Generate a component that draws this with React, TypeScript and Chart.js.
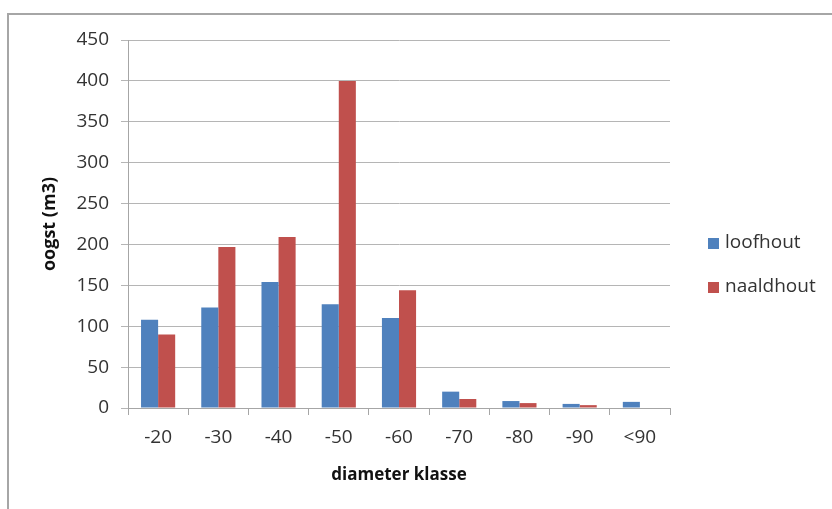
import { useEffect, useRef } from "react";
import { Chart, registerables } from "chart.js";

Chart.register(...registerables);

const categories = ["-20", "-30", "-40", "-50", "-60", "-70", "-80", "-90", "<90"];
const loofhout = [108, 123, 154, 127, 110, 20, 8.5, 5, 7.5];
const naaldhout = [90, 197, 209, 400, 144, 11, 6, 3.5, 0];
const seriesNames = ["loofhout", "naaldhout"];
const seriesColors = ["#4F81BD", "#C0504D"];
const yMax = 450;
const yStep = 50;
const xTitle = "diameter klasse";
const yTitle = "oogst (m3)";

const legendPlugin = {
  id: "sideLegend",
  afterDraw(chart: any) {
    const ctx = chart.ctx;
    ctx.save();
    chart.data.datasets.forEach((ds: any, i: number) => {
      const y = 243 + i * 44;
      ctx.fillStyle = ds.backgroundColor;
      ctx.fillRect(708, y - 5, 11, 11);
      ctx.fillStyle = "#333333";
      ctx.font = '19px "Open Sans"';
      ctx.textBaseline = "middle";
      ctx.textAlign = "left";
      ctx.fillText(ds.label, 725, y);
    });
    ctx.restore();
  },
};

export default function App() {
  const ref = useRef<HTMLCanvasElement | null>(null);

  useEffect(() => {
    if (!ref.current) return;
    Chart.defaults.font.family = '"Open Sans"';
    const chart = new Chart(ref.current, {
      type: "bar",
      data: {
        labels: categories,
        datasets: [
          { label: seriesNames[0], data: loofhout, backgroundColor: seriesColors[0] },
          { label: seriesNames[1], data: naaldhout, backgroundColor: seriesColors[1] },
        ],
      },
      options: {
        responsive: false,
        animation: false,
        layout: { padding: { left: 0, top: 40, right: 162, bottom: 0 } },
        datasets: { bar: { barPercentage: 1, categoryPercentage: 0.567 } },
        plugins: { legend: { display: false }, tooltip: { enabled: false } },
        scales: {
          x: {
            afterFit(s: any) {
              s.height = 101;
            },
            grid: {
              offset: true,
              drawOnChartArea: false,
              drawTicks: true,
              tickLength: 7,
              color: "#a6a6a6",
            },
            border: { color: "#a6a6a6", width: 1 },
            ticks: { color: "#333333", font: { size: 19 }, padding: 11 },
            title: {
              display: true,
              text: xTitle,
              color: "#111111",
              font: { size: 17, weight: "bold" },
              padding: { top: 0, bottom: 24 },
            },
          },
          y: {
            min: 0,
            max: yMax,
            afterFit(s: any) {
              s.width = 128;
            },
            ticks: { stepSize: yStep, color: "#333333", font: { size: 19 }, padding: 12 },
            grid: { color: "#b5b5b5", tickLength: 7 },
            border: { color: "#a6a6a6", width: 1 },
            title: {
              display: true,
              text: yTitle,
              color: "#111111",
              font: { size: 18, weight: "bold" },
              padding: { top: 39, bottom: 0 },
            },
          },
        },
      },
      plugins: [legendPlugin],
    });
    return () => chart.destroy();
  }, []);

  return (
    <div style={{ position: "fixed", left: 0, top: 0, width: 832, height: 509, overflow: "hidden", background: "#fff" }}>
      <div
        style={{
          position: "absolute",
          left: 7,
          top: 13,
          width: 900,
          height: 600,
          border: "2px solid #a6a6a6",
          boxSizing: "border-box",
        }}
      />
      <canvas ref={ref} width={832} height={509} style={{ position: "absolute", left: 0, top: 0 }} />
    </div>
  );
}
